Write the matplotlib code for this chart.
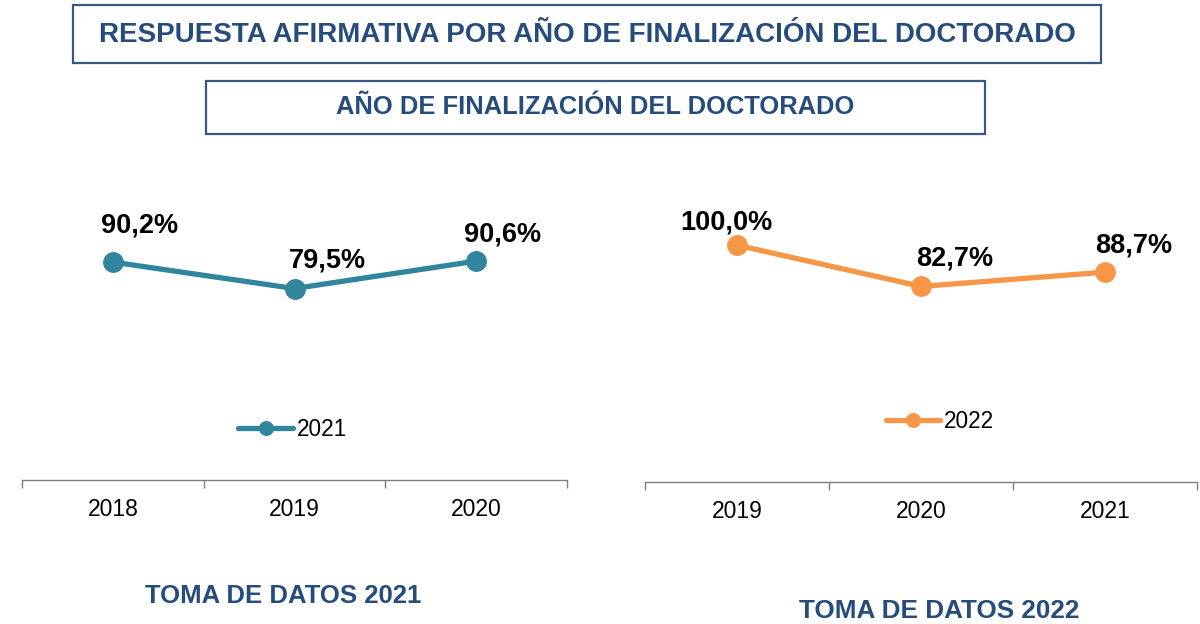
import matplotlib
matplotlib.use('Agg')
import matplotlib.pyplot as plt
from matplotlib.patches import Rectangle

# Data
years_2021 = ['2018', '2019', '2020']
values_2021 = [90.2, 79.5, 90.6]
years_2022 = ['2019', '2020', '2021']
values_2022 = [100.0, 82.7, 88.7]

title_main = 'RESPUESTA AFIRMATIVA POR AÑO DE FINALIZACIÓN DEL DOCTORADO'
title_sub = 'AÑO DE FINALIZACIÓN DEL DOCTORADO'
caption_2021 = 'TOMA DE DATOS 2021'
caption_2022 = 'TOMA DE DATOS 2022'

TEAL = '#31859C'
ORANGE = '#F79646'
NAVY = '#264B7D'
TITLE_FONT = ['Liberation Sans', 'DejaVu Sans']

W, H = 1200, 624
fig = plt.figure(figsize=(12, 6.24), dpi=100)


def px_box(x0, y0, x1, y1):
    # pixel box (top-left origin) -> figure fraction rect
    return [x0 / W, 1 - y1 / H, (x1 - x0) / W, (y1 - y0) / H]


def fmt(v):
    return f"{v:.1f}".replace('.', ',') + '%'


def draw_panel(rect, years, values, color, label, offsets, legend_xy, ylim):
    ax = fig.add_axes(rect)
    x = list(range(len(years)))
    ax.plot(x, values, color=color, lw=3.8, marker='o', ms=14,
            solid_capstyle='round', label=label)
    ax.set_xlim(-0.5, len(years) - 0.5)
    ax.set_ylim(*ylim)
    for s in ['top', 'right', 'left']:
        ax.spines[s].set_visible(False)
    ax.spines['bottom'].set_color('#7f7f7f')
    ax.spines['bottom'].set_linewidth(1.0)
    ax.set_yticks([])
    ax.set_xticks(x)
    ax.set_xticklabels(years, fontsize=16.5, family='Liberation Sans')
    ax.set_xticks([i - 0.5 for i in range(len(years) + 1)], minor=True)
    ax.tick_params(axis='x', which='major', length=0, pad=13)
    ax.tick_params(axis='x', which='minor', length=6, color='#7f7f7f', width=1)
    for xi, v, off in zip(x, values, offsets):
        ax.annotate(fmt(v), (xi, v), xytext=off, textcoords='offset points',
                    ha='center', va='center', fontsize=19.5, fontweight='bold',
                    family='Liberation Sans')
    ax.legend(loc='center', bbox_to_anchor=legend_xy, bbox_transform=fig.transFigure,
              frameon=False, prop={'family': 'Liberation Sans', 'size': 16.3},
              handlelength=2.4, handletextpad=0.2, markerscale=0.7)
    return ax


left_offsets = [(19, 26), (24, 20), (19, 19)]
right_offsets = [(-8, 16), (24, 20), (21, 19)]

draw_panel(px_box(22, 186, 567, 480), years_2021, values_2021, TEAL, '2021',
           left_offsets, (293 / W, 1 - 429 / H), (2, 121))
draw_panel(px_box(645, 195, 1197, 482), years_2022, values_2022, ORANGE, '2022',
           right_offsets, (940 / W, 1 - 421 / H), (0.8, 121))

# Title boxes
for (x0, y0, x1, y1) in [(73, 5, 1101, 63), (206, 81, 985, 134)]:
    fig.add_artist(Rectangle((x0 / W, 1 - y1 / H), (x1 - x0) / W, (y1 - y0) / H,
                             transform=fig.transFigure, fill=False,
                             edgecolor='#3A5683', lw=1.6))

fig.text(587 / W, 1 - 35 / H, title_main, ha='center', va='center',
         fontsize=20, color=NAVY, family=TITLE_FONT, fontweight='bold')
fig.text(595 / W, 1 - 107 / H, title_sub, ha='center', va='center',
         fontsize=18.4, color=NAVY, family=TITLE_FONT, fontweight='bold')
fig.text(283 / W, 1 - 596 / H, caption_2021, ha='center', va='center',
         fontsize=18.5, color=NAVY, family=TITLE_FONT, fontweight='bold')
fig.text(939 / W, 1 - 611 / H, caption_2022, ha='center', va='center',
         fontsize=18.8, color=NAVY, family=TITLE_FONT, fontweight='bold')

fig.savefig('out.png', dpi=100)
